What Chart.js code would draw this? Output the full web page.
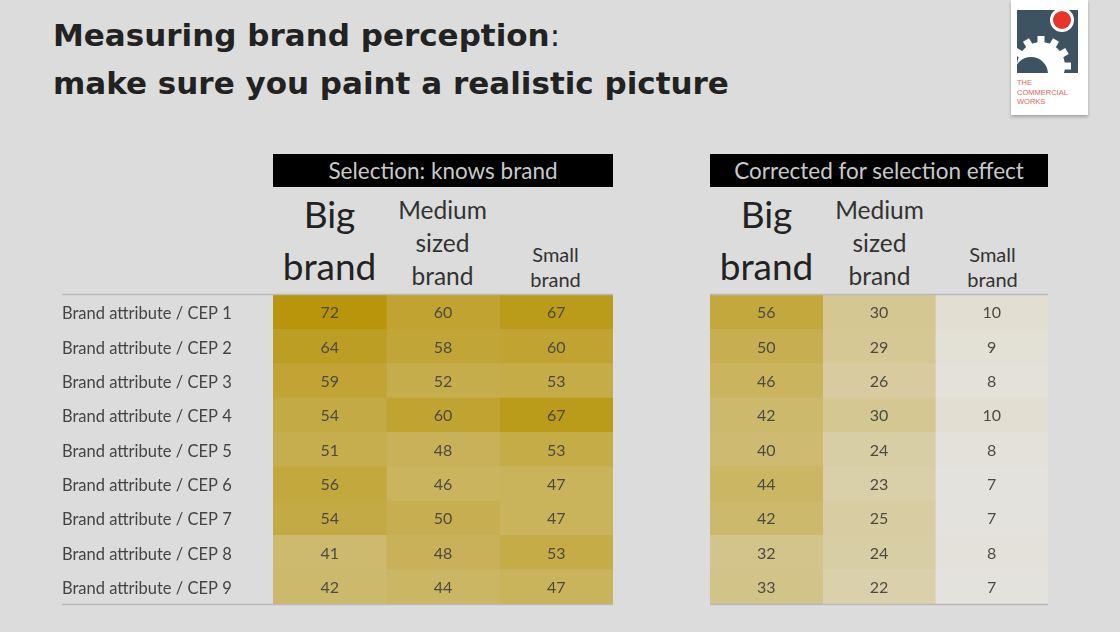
<!DOCTYPE html>
<html>
<head>
<meta charset="utf-8">
<script src="https://cdn.jsdelivr.net/npm/chart.js@4"></script>
<style>
  body { margin: 0; width: 1120px; height: 632px; background: #dcdcdc; position: relative; overflow: hidden; font-family: "Lato", "Open Sans", sans-serif; }
  .title { position: absolute; left: 53px; top: 11px; font-family: "DejaVu Sans", sans-serif; font-weight: 700; font-size: 31px; line-height: 48px; color: #222; }
  .title .colon { font-weight: 400; }
  .bar { position: absolute; top: 154px; height: 33px; width: 340px; background: #000; color: #c9c9c9; font-size: 22.5px; line-height: 33px; text-align: center; }
  .colhead { position: absolute; top: 182px; height: 110px; width: 113px; display: flex; align-items: flex-end; justify-content: center; text-align: center; color: #333; }
  .big { font-size: 37px; line-height: 52px; color: #222; }
  .med { font-size: 24.5px; line-height: 33px; }
  .small { font-size: 20px; line-height: 25px; }
  .panel { position: absolute; top: 293px; }
  .logo { position: absolute; left: 1011px; top: 0px; width: 77px; height: 115px; background: #fff; box-shadow: 0 2px 3px rgba(0,0,0,0.25); }
  .logo svg { position: absolute; left: 0; top: 0; }
  .logo .txt { position: absolute; left: 6px; top: 78px; font-family: "Liberation Sans", sans-serif; font-size: 7.5px; line-height: 9.5px; color: #d9665c; }
</style>
</head>
<body>
<div class="title">Measuring brand perception<span class="colon">:</span><br>make sure you paint a realistic picture</div>

<div class="logo">
  <svg width="77" height="78" viewBox="0 0 77 78">
    <defs><clipPath id="box"><rect x="6" y="10" width="61" height="63"/></clipPath></defs>
    <g clip-path="url(#box)">
      <rect x="6" y="10" width="61" height="63" fill="#3e5361"/>
      <g fill="#fff" transform="translate(30 66)">
        <circle r="24"/>
        <rect x="-3.5" y="-30" width="7" height="60"/>
        <rect x="-3.5" y="-30" width="7" height="60" transform="rotate(30)"/>
        <rect x="-3.5" y="-30" width="7" height="60" transform="rotate(60)"/>
        <rect x="-3.5" y="-30" width="7" height="60" transform="rotate(90)"/>
        <rect x="-3.5" y="-30" width="7" height="60" transform="rotate(120)"/>
        <rect x="-3.5" y="-30" width="7" height="60" transform="rotate(150)"/>
      </g>
      <circle cx="20" cy="74" r="17" fill="#3e5361"/>
    </g>
    <circle cx="51" cy="20" r="12" fill="#fff"/>
    <circle cx="51" cy="20" r="9" fill="#e8352a"/>
  </svg>
  <div class="txt">THE<br>COMMERCIAL<br>WORKS</div>
</div>

<div class="bar" style="left:273px">Selection: knows brand</div>
<div class="bar" style="left:710px; width:338px">Corrected for selection effect</div>

<div id="heads"></div>

<div class="panel" style="left:62px"><canvas id="leftChart" width="551" height="313"></canvas></div>
<div class="panel" style="left:710px"><canvas id="rightChart" width="338" height="313"></canvas></div>

<script>
const rowLabels = [
  "Brand attribute / CEP 1", "Brand attribute / CEP 2", "Brand attribute / CEP 3",
  "Brand attribute / CEP 4", "Brand attribute / CEP 5", "Brand attribute / CEP 6",
  "Brand attribute / CEP 7", "Brand attribute / CEP 8", "Brand attribute / CEP 9"
];
const columnLabels = ["Big brand", "Medium sized brand", "Small brand"];

const selectionBig = [72, 64, 59, 54, 51, 56, 54, 41, 42];
const selectionMedium = [60, 58, 52, 60, 48, 46, 50, 48, 44];
const selectionSmall = [67, 60, 53, 67, 53, 47, 47, 53, 47];

const correctedBig = [56, 50, 46, 42, 40, 44, 42, 32, 33];
const correctedMedium = [30, 29, 26, 30, 24, 23, 25, 24, 22];
const correctedSmall = [10, 9, 8, 10, 8, 7, 7, 8, 7];

// column header lines
const headLines = [["Big", "brand"], ["Medium", "sized", "brand"], ["Small", "brand"]];
const headClass = ["big", "med", "small"];

function addHeads(left) {
  const wrap = document.getElementById("heads");
  headLines.forEach((lines, i) => {
    const d = document.createElement("div");
    d.className = "colhead";
    d.style.left = (left + i * 113) + "px";
    const inner = document.createElement("div");
    inner.className = headClass[i];
    inner.innerHTML = lines.join("<br>");
    d.appendChild(inner);
    wrap.appendChild(d);
  });
}
addHeads(273);
addHeads(710);

const lo = [228, 226, 220];
const hi = [184, 149, 10];
function colorFor(v) {
  const t = Math.max(0, Math.min(1, (v - 7) / (72 - 7)));
  const c = lo.map((l, k) => Math.round(l + (hi[k] - l) * t));
  return `rgb(${c[0]},${c[1]},${c[2]})`;
}

const cellText = {
  id: "cellText",
  afterDatasetsDraw(chart) {
    const ctx = chart.ctx;
    ctx.save();
    ctx.font = "16px Lato, 'Open Sans', sans-serif";
    ctx.fillStyle = "#4d4a42";
    ctx.textAlign = "center";
    ctx.textBaseline = "middle";
    chart.data.datasets.forEach((ds, d) => {
      chart.getDatasetMeta(d).data.forEach((el, i) => {
        const p = el.getCenterPoint();
        ctx.fillText(ds.values[i], p.x, p.y + 1);
      });
    });
    ctx.restore();
  },
};

const ruleLines = {
  id: "ruleLines",
  afterDraw(chart) {
    const { ctx, chartArea } = chart;
    ctx.save();
    ctx.strokeStyle = "#b9b9b9";
    ctx.lineWidth = 1.5;
    [chartArea.top - 0.5, chartArea.bottom + 0.5].forEach((y) => {
      ctx.beginPath();
      ctx.moveTo(0, y);
      ctx.lineTo(chartArea.right, y);
      ctx.stroke();
    });
    ctx.restore();
  },
};

function renderTable(canvasId, series, showLabels) {
  new Chart(document.getElementById(canvasId), {
    type: "bar",
    data: {
      labels: rowLabels,
      datasets: series.map((vals, c) => ({
        label: columnLabels[c],
        data: vals.map(() => [c, c + 1]),
        values: vals,
        backgroundColor: vals.map(colorFor),
        borderWidth: 0,
        grouped: false,
        barPercentage: 1,
        categoryPercentage: 1,
      })),
    },
    options: {
      indexAxis: "y",
      responsive: false,
      animation: false,
      layout: { padding: { top: 2, bottom: 2, left: 0, right: 0 } },
      plugins: {
        legend: { display: false },
        tooltip: { enabled: false },
      },
      scales: {
        x: { type: "linear", min: 0, max: 3, display: false },
        y: {
          display: showLabels,
          grid: { display: false },
          border: { display: false },
          ticks: {
            crossAlign: "far",
            padding: 0,
            labelOffset: 2,
            color: "#444",
            font: { family: "Lato, 'Open Sans', sans-serif", size: 16.5 },
          },
          afterFit(scale) {
            scale.width = showLabels ? 211 : 0;
            scale.paddingTop = 0;
            scale.paddingBottom = 0;
          },
        },
      },
    },
    plugins: [cellText, ruleLines],
  });
}

renderTable("leftChart", [selectionBig, selectionMedium, selectionSmall], true);
renderTable("rightChart", [correctedBig, correctedMedium, correctedSmall], false);
</script>
</body>
</html>
